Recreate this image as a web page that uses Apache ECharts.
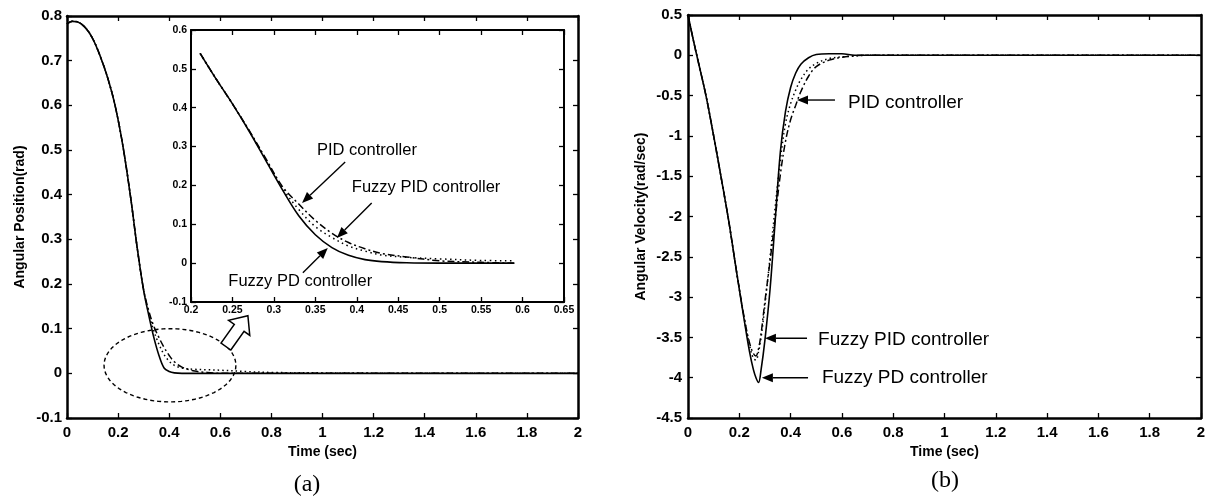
<!DOCTYPE html>
<html>
<head>
<meta charset="utf-8">
<script src="https://cdn.jsdelivr.net/npm/echarts@6/dist/echarts.min.js"></script>
<style>
  html, body { margin: 0; padding: 0; background: #fff; }
  #chart { width: 1209px; height: 504px; }
</style>
</head>
<body>
<div id="chart"></div>
<script>
// (a) angular position, full range
const timeA = [0, 0.02, 0.04, 0.07, 0.1, 0.13, 0.16, 0.19, 0.22, 0.25, 0.275, 0.3, 0.32, 0.34, 0.36, 0.38, 0.4, 0.42, 0.45, 0.5, 0.55, 0.6, 0.7, 0.8, 1.0, 1.5, 2.0];
const fuzzyPdA = [0.782, 0.788, 0.787, 0.775, 0.75, 0.71, 0.66, 0.595, 0.505, 0.39, 0.28, 0.185, 0.13, 0.08, 0.04, 0.012, 0.004, 0.001, 0, 0, 0, 0, 0, 0, 0, 0, 0];
const pidA = [0.782, 0.788, 0.787, 0.775, 0.75, 0.71, 0.66, 0.595, 0.505, 0.39, 0.28, 0.187, 0.14, 0.105, 0.08, 0.058, 0.04, 0.026, 0.014, 0.005, 0.002, 0, 0, 0, 0, 0, 0];
const fuzzyPidA = [0.782, 0.788, 0.787, 0.775, 0.75, 0.71, 0.66, 0.595, 0.505, 0.39, 0.28, 0.186, 0.135, 0.095, 0.065, 0.042, 0.027, 0.018, 0.012, 0.009, 0.008, 0.007, 0.004, 0.002, 0.001, 0, 0];

// (a) zoomed inset
const timeIn = [0.211, 0.23, 0.25, 0.27, 0.29, 0.31, 0.33, 0.35, 0.37, 0.39, 0.41, 0.43, 0.46, 0.5, 0.55, 0.59];
const fuzzyPdIn = [0.54, 0.475, 0.41, 0.34, 0.265, 0.19, 0.122, 0.073, 0.04, 0.02, 0.009, 0.004, 0.001, 0, 0, 0];
const pidIn = [0.54, 0.475, 0.41, 0.342, 0.27, 0.198, 0.152, 0.11, 0.077, 0.053, 0.037, 0.025, 0.016, 0.006, 0.002, 0];
const fuzzyPidIn = [0.54, 0.475, 0.41, 0.341, 0.268, 0.194, 0.138, 0.094, 0.066, 0.044, 0.031, 0.021, 0.015, 0.011, 0.007, 0.006];

// (b) angular velocity
const timeB = [0, 0.02, 0.04, 0.07, 0.1, 0.13, 0.16, 0.19, 0.22, 0.24, 0.255, 0.265, 0.275, 0.285, 0.3, 0.32, 0.34, 0.36, 0.38, 0.4, 0.42, 0.44, 0.47, 0.5, 0.55, 0.6, 0.65, 0.7, 1.0, 2.0];
const fuzzyPdB = [0.5, 0.2, -0.08, -0.5, -1.0, -1.53, -2.08, -2.7, -3.3, -3.68, -3.9, -4.0, -4.06, -3.9, -3.53, -2.9, -2.05, -1.2, -0.7, -0.4, -0.22, -0.11, -0.03, 0.01, 0.02, 0.02, 0, 0, 0, 0];
const fuzzyPidB = [0.5, 0.2, -0.08, -0.5, -1.0, -1.53, -2.08, -2.7, -3.28, -3.6, -3.76, -3.78, -3.68, -3.5, -3.1, -2.5, -1.88, -1.3, -0.85, -0.6, -0.43, -0.3, -0.17, -0.1, -0.04, -0.02, -0.01, 0, 0, 0];
const pidB = [0.5, 0.2, -0.08, -0.5, -1.0, -1.53, -2.08, -2.7, -3.27, -3.57, -3.7, -3.73, -3.64, -3.45, -3.05, -2.55, -2.02, -1.48, -1.07, -0.8, -0.62, -0.45, -0.26, -0.14, -0.06, -0.025, -0.005, 0, 0, 0];

// annotations: text anchor (left, middle) and arrows [fromX, fromY, toX, toY]
const insetNotes = ['PID controller', 'Fuzzy PID controller', 'Fuzzy PD controller'];
const insetNoteX = [0.352, 0.394, 0.245];
const insetNoteY = [0.291, 0.196, -0.048];
const insetArrows = [[0.386, 0.260, 0.334, 0.155], [0.418, 0.155, 0.376, 0.065], [0.335, -0.025, 0.365, 0.039]];

const notesB = ['PID controller', 'Fuzzy PID controller', 'Fuzzy PD controller'];
const notesBX = [0.624, 0.507, 0.522];
const notesBY = [-0.59, -3.53, -4.0];
const arrowsB = [[0.573, -0.555, 0.425, -0.555], [0.464, -3.51, 0.30, -3.51], [0.468, -4.0, 0.288, -4.0]];

// zoom marker on (a): ellipse [cx, cy, rx, ry] and hollow arrow [fromX, fromY, toX, toY]
const zoomEllipse = [[0.403, 0.018, 0.258, 0.082]];
const zoomArrow = [[0.622, 0.06, 0.708, 0.129]];

const fam = '"Liberation Sans", Arial, sans-serif';

function pairs(t, v) {
  return t.map((x, i) => [x, v[i]]);
}

function axis(grid, pos, min, max, step, showLabel, size, lw, z, margin) {
  return {
    type: 'value', gridIndex: grid, position: pos, min: min, max: max, interval: step, z: z,
    axisLine: { show: true, onZero: false, lineStyle: { color: '#000', width: lw } },
    axisTick: { show: true, inside: true, length: 5, lineStyle: { color: '#000', width: 1.3 } },
    axisLabel: { show: showLabel, color: '#000', fontWeight: 'bold', fontSize: size, fontFamily: fam, margin: margin },
    splitLine: { show: false }
  };
}

function curve(name, xi, yi, data, dash, z) {
  return {
    name: name, type: 'line', xAxisIndex: xi, yAxisIndex: yi, data: data,
    showSymbol: false, symbol: 'none', smooth: 0.35, z: z,
    lineStyle: { color: '#000', width: dash === 'solid' ? 1.6 : 1.5, type: dash }
  };
}

function textSeries(xi, yi, labels, xs, ys, size, z) {
  return {
    type: 'custom', xAxisIndex: xi, yAxisIndex: yi, z: z, silent: true,
    data: xs.map((x, i) => [x, ys[i]]),
    renderItem: function (params, api) {
      const p = api.coord([api.value(0), api.value(1)]);
      return {
        type: 'text', x: p[0], y: p[1],
        style: { text: labels[params.dataIndex], fontSize: size, fontFamily: fam, fill: '#000', align: 'left', verticalAlign: 'middle' }
      };
    }
  };
}

function arrowSeries(xi, yi, list, z) {
  return {
    type: 'custom', xAxisIndex: xi, yAxisIndex: yi, z: z, silent: true,
    data: list,
    renderItem: function (params, api) {
      const a = api.coord([api.value(0), api.value(1)]);
      const b = api.coord([api.value(2), api.value(3)]);
      const dx = b[0] - a[0], dy = b[1] - a[1];
      const len = Math.sqrt(dx * dx + dy * dy);
      const ux = dx / len, uy = dy / len;
      const hl = 11, hw = 4.5;
      const bx = b[0] - ux * hl, by = b[1] - uy * hl;
      return {
        type: 'group',
        children: [
          { type: 'line', shape: { x1: a[0], y1: a[1], x2: bx, y2: by }, style: { stroke: '#000', lineWidth: 1.4 } },
          { type: 'polygon', shape: { points: [[b[0], b[1]], [bx - uy * hw, by + ux * hw], [bx + uy * hw, by - ux * hw]] }, style: { fill: '#000' } }
        ]
      };
    }
  };
}

const nameStyle = { color: '#000', fontWeight: 'bold', fontSize: 14, fontFamily: fam };

const option = {
  animation: false,
  backgroundColor: '#fff',
  grid: [
    { left: 67, top: 16, width: 511, height: 402 },
    { left: 191, top: 30, width: 373, height: 272, show: true, backgroundColor: '#fff', borderWidth: 0, z: 5 },
    { left: 688, top: 15, width: 513, height: 403 }
  ],
  xAxis: [
    Object.assign(axis(0, 'bottom', 0, 2, 0.2, true, 15, 2.5, 1, 7),
      { name: 'Time (sec)', nameLocation: 'middle', nameGap: 24, nameTextStyle: nameStyle }),
    axis(0, 'top', 0, 2, 0.2, false, 15, 2.5, 1, 7),
    axis(1, 'bottom', 0.2, 0.65, 0.05, true, 10.5, 2, 6, 3),
    axis(1, 'top', 0.2, 0.65, 0.05, false, 10.5, 2, 6, 3),
    Object.assign(axis(2, 'bottom', 0, 2, 0.2, true, 15, 2.5, 1, 7),
      { name: 'Time (sec)', nameLocation: 'middle', nameGap: 22, nameTextStyle: nameStyle }),
    axis(2, 'top', 0, 2, 0.2, false, 15, 2.5, 1, 7)
  ],
  yAxis: [
    Object.assign(axis(0, 'left', -0.1, 0.8, 0.1, true, 15, 2.5, 1, 5),
      { name: 'Angular Position(rad)', nameLocation: 'middle', nameGap: 40, nameTextStyle: nameStyle }),
    axis(0, 'right', -0.1, 0.8, 0.1, false, 15, 2.5, 1, 5),
    axis(1, 'left', -0.1, 0.6, 0.1, true, 10.5, 2, 6, 4),
    axis(1, 'right', -0.1, 0.6, 0.1, false, 10.5, 2, 6, 4),
    Object.assign(axis(2, 'left', -4.5, 0.5, 0.5, true, 15, 2.5, 1, 6),
      { name: 'Angular Velocity(rad/sec)', nameLocation: 'middle', nameGap: 40, nameTextStyle: nameStyle }),
    axis(2, 'right', -4.5, 0.5, 0.5, false, 15, 2.5, 1, 6)
  ],
  series: [
    curve('Fuzzy PD controller', 0, 0, pairs(timeA, fuzzyPdA), 'solid', 2),
    curve('Fuzzy PID controller', 0, 0, pairs(timeA, fuzzyPidA), [1.5, 3], 2),
    curve('PID controller', 0, 0, pairs(timeA, pidA), [7, 3, 2, 3], 2),
    {
      type: 'custom', xAxisIndex: 0, yAxisIndex: 0, z: 3, silent: true,
      data: zoomEllipse,
      renderItem: function (params, api) {
        const c = api.coord([api.value(0), api.value(1)]);
        const s = api.size([api.value(2), api.value(3)]);
        const pts = [];
        for (let k = 0; k <= 90; k++) {
          const a = k / 90 * Math.PI * 2;
          pts.push([c[0] + s[0] * Math.cos(a), c[1] + s[1] * Math.sin(a)]);
        }
        return { type: 'polyline', shape: { points: pts }, style: { stroke: '#000', lineWidth: 1.4, lineDash: [4, 3], fill: null } };
      }
    },
    {
      type: 'custom', xAxisIndex: 0, yAxisIndex: 0, z: 3, silent: true,
      data: zoomArrow,
      renderItem: function (params, api) {
        const a = api.coord([api.value(0), api.value(1)]);
        const b = api.coord([api.value(2), api.value(3)]);
        const dx = b[0] - a[0], dy = b[1] - a[1];
        const len = Math.sqrt(dx * dx + dy * dy);
        const ux = dx / len, uy = dy / len, nx = -uy, ny = ux;
        const sw = 6, hw = 13, hl = 15;
        const hx = b[0] - ux * hl, hy = b[1] - uy * hl;
        const pts = [
          [a[0] + nx * sw, a[1] + ny * sw], [hx + nx * sw, hy + ny * sw], [hx + nx * hw, hy + ny * hw],
          [b[0], b[1]],
          [hx - nx * hw, hy - ny * hw], [hx - nx * sw, hy - ny * sw], [a[0] - nx * sw, a[1] - ny * sw]
        ];
        return { type: 'polygon', shape: { points: pts }, style: { fill: '#fff', stroke: '#000', lineWidth: 1.5 } };
      }
    },
    curve('Fuzzy PD controller', 2, 2, pairs(timeIn, fuzzyPdIn), 'solid', 7),
    curve('Fuzzy PID controller', 2, 2, pairs(timeIn, fuzzyPidIn), [1.5, 3.5], 7),
    curve('PID controller', 2, 2, pairs(timeIn, pidIn), [7, 3, 2, 3], 7),
    textSeries(2, 2, insetNotes, insetNoteX, insetNoteY, 16.5, 8),
    arrowSeries(2, 2, insetArrows, 8),
    curve('Fuzzy PD controller', 4, 4, pairs(timeB, fuzzyPdB), 'solid', 2),
    curve('Fuzzy PID controller', 4, 4, pairs(timeB, fuzzyPidB), [1.5, 3], 2),
    curve('PID controller', 4, 4, pairs(timeB, pidB), [7, 3, 2, 3], 2),
    textSeries(4, 4, notesB, notesBX, notesBY, 19, 3),
    arrowSeries(4, 4, arrowsB, 3)
  ],
  graphic: [
    { type: 'text', x: 307, y: 485, style: { text: '(a)', fontSize: 24, fontFamily: '"Liberation Serif", "Times New Roman", serif', fill: '#000', align: 'center', verticalAlign: 'middle' } },
    { type: 'text', x: 945, y: 481, style: { text: '(b)', fontSize: 24, fontFamily: '"Liberation Serif", "Times New Roman", serif', fill: '#000', align: 'center', verticalAlign: 'middle' } }
  ]
};

const myChart = echarts.init(document.getElementById('chart'));
myChart.setOption(option);
</script>
</body>
</html>
